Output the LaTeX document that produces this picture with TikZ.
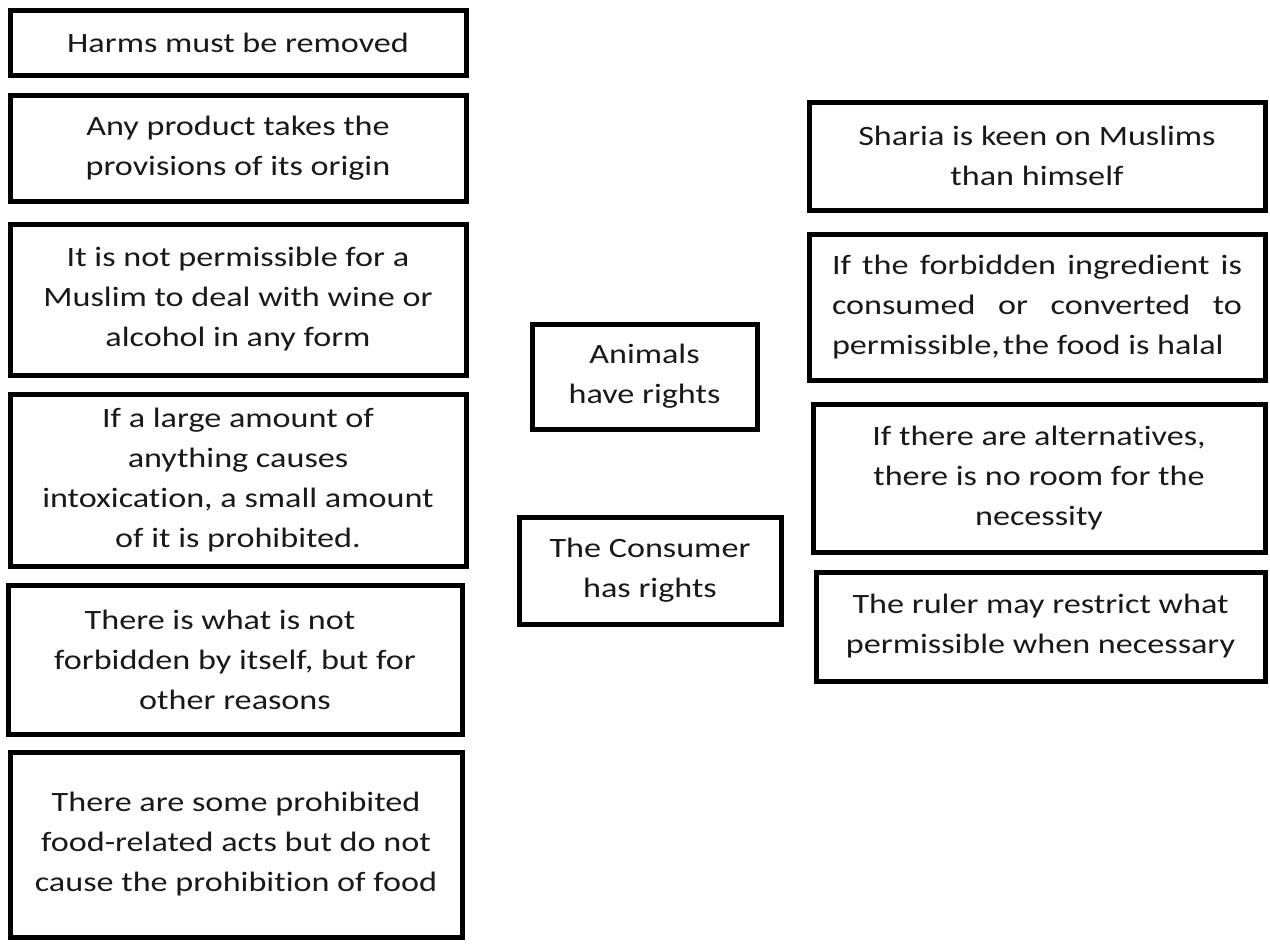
\documentclass[tikz,border=0pt]{standalone}
\usepackage{fontspec}
\setmainfont{Carlito}[FakeStretch=1.22, Ligatures=NoCommon]
\begin{document}
\begin{tikzpicture}[x=1pt,y=-1pt,
  box/.style={draw=black, line width=5pt, rectangle, inner sep=0pt, align=center,
    font=\fontsize{28}{40}\selectfont, text=black!90}]
\useasboundingbox (0,0) rectangle (1270,945);
\node[box, minimum width=456pt, minimum height=65pt] (b1) at (238,42.5) {Harms must be removed};
\node[box, minimum width=456pt, minimum height=106pt] (b2) at (238,148) {Any product takes the\\provisions of its origin};
\node[box, minimum width=456pt, minimum height=151pt] (b3) at (238,299.5) {It is not permissible for a\\Muslim to deal with wine or\\alcohol in any form};
\node[box, minimum width=456pt, minimum height=172pt] (b4) at (238,480) {If a large amount of\\anything causes\\intoxication, a small amount\\of it is prohibited.};
\node[box, minimum width=454pt, minimum height=149pt] (b5) at (235,659.5) {There is what is not\hspace*{30pt}\\forbidden by itself, but for\\other reasons};
\node[box, minimum width=452pt, minimum height=185pt] (b6) at (236,844.5) {There are some prohibited\\food-related acts but do not\\cause the prohibition of food};
\node[box, minimum width=225pt, minimum height=105pt] (b7) at (644.5,376.5) {Animals\\have rights};
\node[box, minimum width=262pt, minimum height=107pt] (b8) at (650,570.5) {The Consumer\\has rights};
\node[box, minimum width=456pt, minimum height=108pt] (b9) at (1037,156) {Sharia is keen on Muslims\\than himself};
\node[box, minimum width=456pt, minimum height=146pt] (b10) at (1037,307) {\hbox to 410pt{If\hfill the\hfill forbidden\hfill ingredient\hfill is}\\\hbox to 410pt{consumed\hfill or\hfill converted\hfill to}\\\hbox to 410pt{permissible,\hspace{3pt}the food is halal\hfill}};
\node[box, minimum width=452pt, minimum height=148pt] (b11) at (1039,478) {If there are alternatives,\\there is no room for the\\necessity};
\node[box, minimum width=449pt, minimum height=109pt] (b12) at (1040.5,626.5) {The ruler may restrict what\\permissible when necessary};
\end{tikzpicture}
\end{document}
